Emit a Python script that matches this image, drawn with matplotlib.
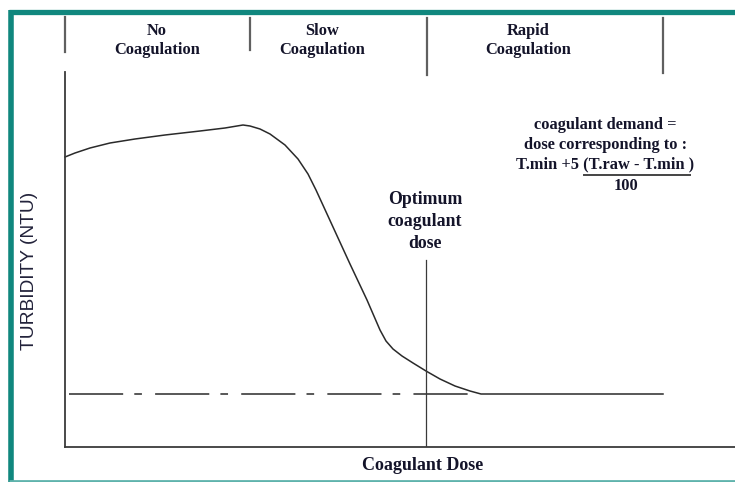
import matplotlib
matplotlib.use("Agg")
import matplotlib.pyplot as plt
from matplotlib.lines import Line2D

plt.rcParams['lines.scale_dashes'] = False

# ---- data (arbitrary units: dose vs turbidity) ----
dose = [0, 10, 25, 45, 70, 100, 135, 160, 172, 178, 185, 195, 205, 220, 233,
        243, 251, 268, 285, 302, 315, 321, 328, 337, 348, 361, 375, 390, 405,
        416, 598]
turbidity = [290, 294, 299, 304, 308, 312, 316, 319, 321, 322, 321, 318, 313,
             302, 288, 273, 257, 220, 183, 147, 117, 106, 98, 91, 84, 76, 68,
             61, 56, 53, 53]
t_min = 53
threshold_x = [4, 405]
optimum_dose = 361
optimum_top = 187

zone_labels = ["No\nCoagulation", "Slow\nCoagulation", "Rapid\nCoagulation"]

W, H = 735, 482
fig = plt.figure(figsize=(W / 100, H / 100), dpi=100)
fig.patch.set_facecolor('white')

serif = ['Liberation Serif', 'DejaVu Serif']
sans = ['Liberation Sans', 'DejaVu Sans']
txtc = '#14142a'
linec = '#2a2a2a'

# background overlay in pixel coordinates (frame, header, annotations)
bg = fig.add_axes([0, 0, 1, 1])
bg.set_xlim(0, W)
bg.set_ylim(H, 0)
bg.axis('off')

teal = '#10877e'
bg.add_line(Line2D([9, W], [12, 12], color=teal, lw=3.8, solid_capstyle='butt'))
bg.add_line(Line2D([11.5, 11.5], [10, H], color=teal, lw=4.0, solid_capstyle='butt'))
bg.add_line(Line2D([9, W], [480.5, 480.5], color='#5fb3ac', lw=2.0, solid_capstyle='butt'))

# header dividers
for x, y0, y1 in [(65, 17, 52), (250, 18, 50), (427, 18, 75), (663, 18, 73)]:
    bg.add_line(Line2D([x, x], [y0, y1], color='#606060', lw=1.6))

fs = 11.8
for lab, xc in zip(zone_labels, [157, 322, 528]):
    l1, l2 = lab.split('\n')
    bg.text(xc, 31, l1, ha='center', va='center', family=serif, weight='bold',
            fontsize=fs, color=txtc)
    bg.text(xc, 50, l2, ha='center', va='center', family=serif, weight='bold',
            fontsize=fs, color=txtc)

# formula text
bg.text(605, 125, "coagulant demand =", ha='center', va='center', family=serif,
        weight='bold', fontsize=fs, color=txtc)
bg.text(606, 145, "dose corresponding to :", ha='center', va='center', family=serif,
        weight='bold', fontsize=fs, color=txtc)
bg.text(605, 164, "T.min +5 (T.raw - T.min )", ha='center', va='center', family=serif,
        weight='bold', fontsize=fs, color=txtc)
bg.add_line(Line2D([584, 690], [175, 175], color='#444444', lw=1.4))
bg.text(626, 186, "100", ha='center', va='center', family=serif,
        weight='bold', fontsize=fs, color=txtc)

# optimum label
for i, s in enumerate(["Optimum", "coagulant", "dose"]):
    bg.text(425, 200 + 21.5 * i, s, ha='center', va='center', family=serif,
            weight='bold', fontsize=12.8, color=txtc)

bg.text(423, 465, "Coagulant Dose", ha='center', va='center', family=serif,
        weight='bold', fontsize=13, color=txtc)
bg.text(30, 271, "TURBIDITY (NTU)", ha='center', va='center', rotation=90,
        family=sans, fontsize=13.8, color='#22223a')

# main axes
ax = fig.add_axes([65 / W, 35 / H, 670 / W, 375 / H])
ax.set_xlim(0, 670)
ax.set_ylim(0, 375)
ax.patch.set_alpha(0)
for s in ['top', 'right']:
    ax.spines[s].set_visible(False)
for s in ['left', 'bottom']:
    ax.spines[s].set_color('#3a3a3a')
    ax.spines[s].set_linewidth(1.3)
ax.set_xticks([])
ax.set_yticks([])

ax.plot(dose, turbidity, color=linec, lw=1.1, clip_on=False,
        solid_joinstyle='round', antialiased=True)
ax.plot(threshold_x, [t_min, t_min], color=linec, lw=1.1,
        dashes=(39, 8, 5.5, 9.5))
ax.plot([optimum_dose, optimum_dose], [0, optimum_top], color='#3a3a3a', lw=0.9)

fig.savefig('out.png', dpi=100)
